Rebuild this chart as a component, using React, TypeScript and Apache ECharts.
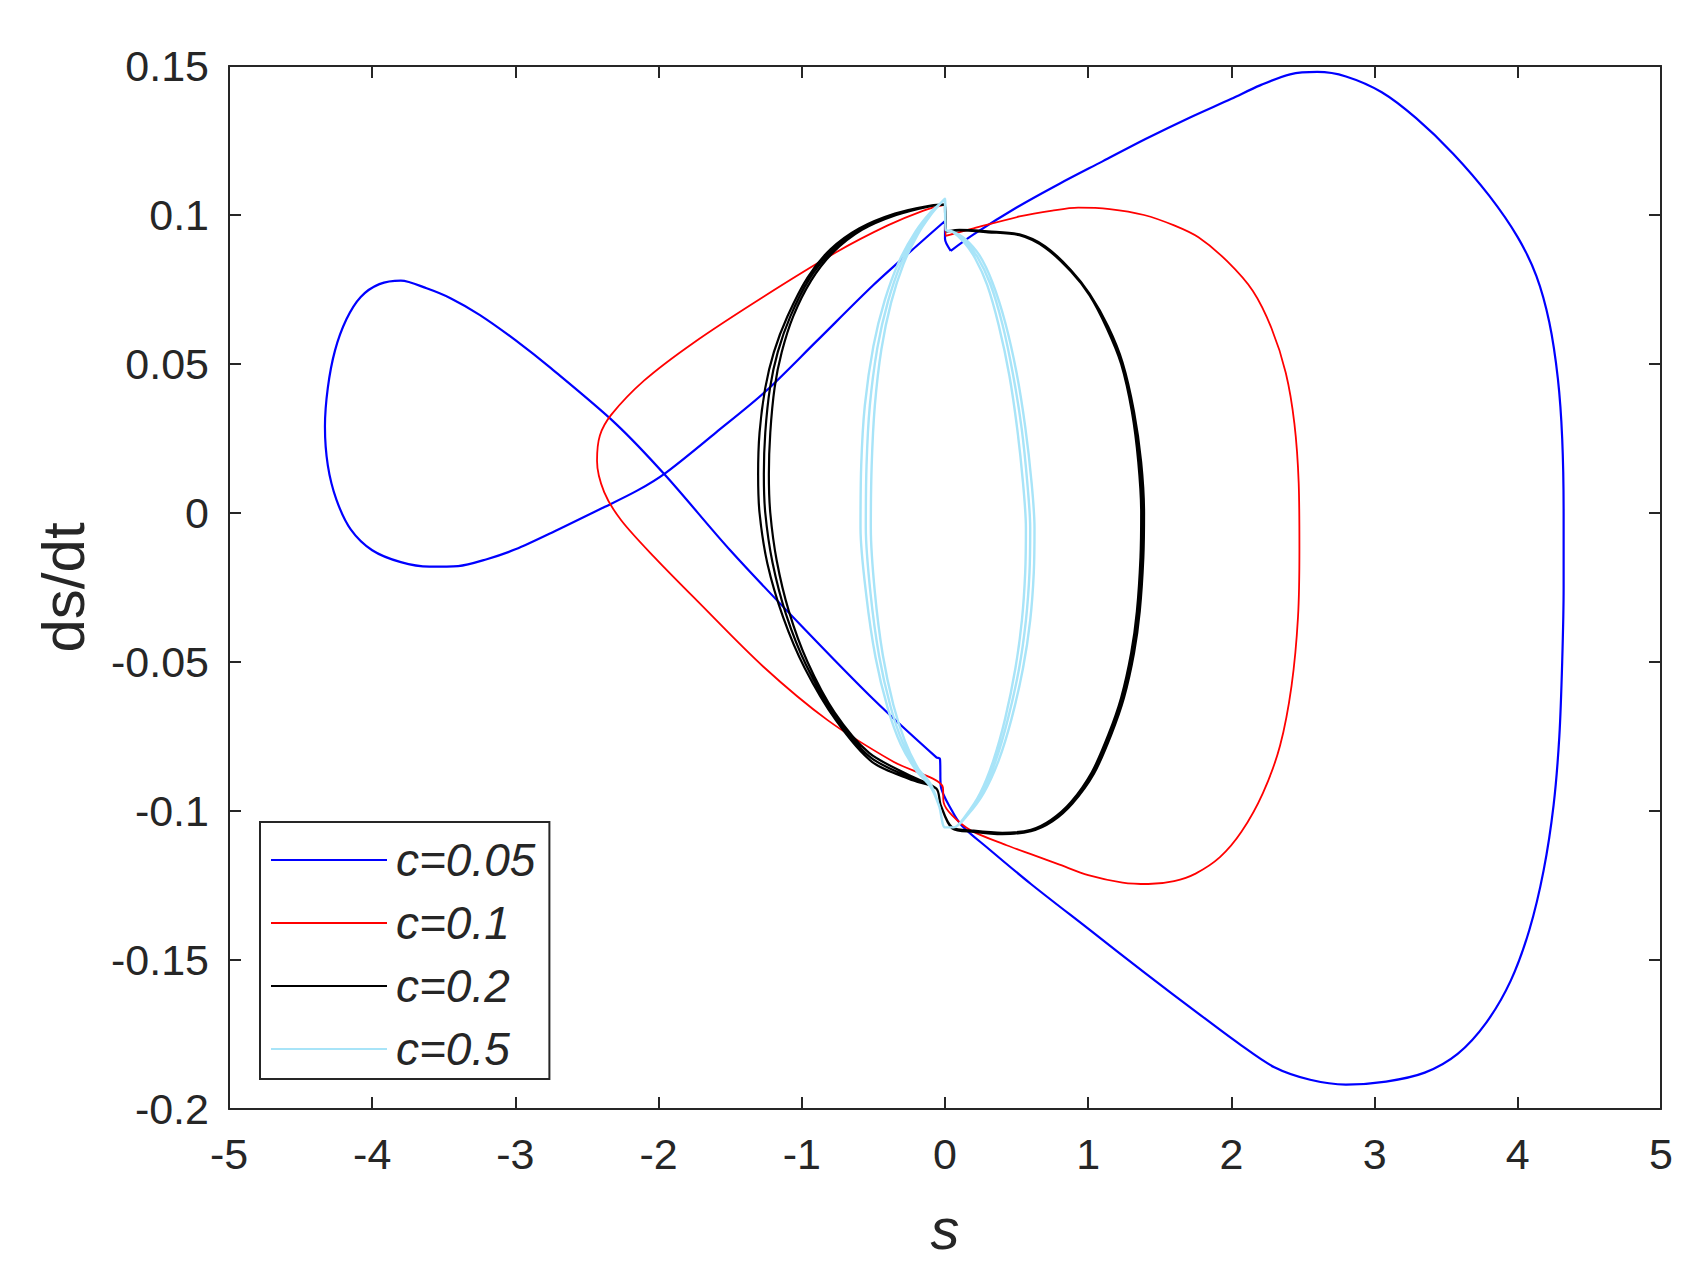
import React, { useEffect, useRef } from "react";
import * as echarts from "echarts";

type P = [number, number];

const xTicks = { min: -5, max: 5, interval: 1 };
const yTicks = { min: -0.2, max: 0.15, interval: 0.05 };

const seriesNames = ["c=0.05", "c=0.1", "c=0.2", "c=0.5"];
const seriesColors = ["#0000FF", "#FF0000", "#000000", "#A8E4F8"];

// c = 0.05 (blue)
const blueLoop: P[] = [
  [0.04, 0.088], [0.2, 0.0935], [0.5, 0.1025], [0.8, 0.1105], [1.1, 0.118], [1.4, 0.1255],
  [1.7, 0.1325], [2.0, 0.139], [2.2, 0.1435], [2.41, 0.1472], [2.6, 0.148], [2.8, 0.1465],
  [3.05, 0.1412], [3.29, 0.1325], [3.55, 0.1205], [3.8, 0.1065], [4.0, 0.0925],
  [4.13, 0.0795], [4.22, 0.064], [4.28, 0.045], [4.31, 0.025], [4.32, 0.0], [4.32, -0.025],
  [4.31, -0.05], [4.29, -0.075], [4.25, -0.098], [4.18, -0.12], [4.08, -0.14], [3.95, -0.157],
  [3.78, -0.171], [3.58, -0.1815], [3.35, -0.1878], [3.08, -0.1908], [2.8, -0.1918], [2.55, -0.1902],
  [2.3, -0.186], [2.05, -0.178], [1.77, -0.168], [1.4, -0.1545], [1.0, -0.1395], [0.6, -0.1245],
  [0.3, -0.1125], [0.12, -0.105], [0.05, -0.1], [-0.03, -0.0915], [-0.035, -0.0825], [-0.06, -0.082],
  [-0.5, -0.0625], [-1.0, -0.038], [-1.5, -0.0125], [-1.95, 0.0125], [-2.3, 0.03], [-2.75, 0.0485],
  [-3.0, 0.058], [-3.25, 0.0665], [-3.45, 0.072], [-3.62, 0.0754], [-3.8, 0.078], [-3.95, 0.0768],
  [-4.08, 0.0725], [-4.18, 0.065], [-4.26, 0.0545], [-4.31, 0.042], [-4.33, 0.029], [-4.31, 0.016],
  [-4.25, 0.0045], [-4.15, -0.0055], [-4.0, -0.0125], [-3.8, -0.0165], [-3.6, -0.018], [-3.4, -0.0178],
  [-3.2, -0.0155], [-3.0, -0.0122], [-2.7, -0.0055], [-2.4, 0.0015], [-2.15, 0.0075], [-1.95, 0.0135],
  [-1.6, 0.027], [-1.26, 0.0405], [-0.9, 0.0575], [-0.5, 0.0765], [-0.2, 0.0895], [0.0, 0.098],
  [0.0, 0.092], [0.04, 0.088],
];

// c = 0.1 (red)
const redLoop: P[] = [
  [0.0, 0.1035], [0.005, 0.093], [0.2, 0.0955], [0.52, 0.0995], [0.75, 0.1015], [0.93, 0.1025],
  [1.15, 0.102], [1.39, 0.1], [1.6, 0.0965], [1.77, 0.0925], [1.97, 0.0845], [2.15, 0.0745],
  [2.28, 0.062], [2.38, 0.047], [2.44, 0.03], [2.47, 0.01], [2.475, -0.012], [2.465, -0.035],
  [2.42, -0.058], [2.34, -0.078], [2.22, -0.094], [2.07, -0.107], [1.92, -0.1155], [1.75, -0.121],
  [1.6, -0.1235], [1.42, -0.1245], [1.24, -0.124], [1.0, -0.1215], [0.8, -0.118], [0.6, -0.1145],
  [0.43, -0.1115], [0.18, -0.1065], [0.05, -0.1015], [-0.01, -0.097], [-0.015, -0.092], [-0.36, -0.0835],
  [-0.82, -0.0695], [-1.27, -0.0515], [-1.73, -0.0295], [-2.03, -0.0148], [-2.26, -0.0025], [-2.38, 0.007],
  [-2.43, 0.0175], [-2.41, 0.026], [-2.33, 0.033], [-2.1, 0.0445], [-1.76, 0.057], [-1.27, 0.0725],
  [-0.76, 0.0875], [-0.4, 0.0965], [-0.15, 0.1015], [0.0, 0.1035],
];

// c = 0.2 (black), three laps
const blackLap1: P[] = [
  [0.0, 0.1035], [0.01, 0.0945], [0.1, 0.095], [0.3, 0.0945], [0.52, 0.0935], [0.7, 0.0895],
  [0.88, 0.0815], [1.01, 0.0735], [1.14, 0.0625], [1.24, 0.0505], [1.32, 0.034], [1.37, 0.017],
  [1.39, 0.0], [1.385, -0.015], [1.36, -0.033], [1.32, -0.047], [1.25, -0.062], [1.16, -0.0745],
  [1.04, -0.0875], [0.89, -0.0975], [0.75, -0.1035], [0.6, -0.1068], [0.4, -0.1078], [0.2, -0.107],
  [0.05, -0.1058], [-0.03, -0.098], [-0.06, -0.0925], [-0.22, -0.0898], [-0.51, -0.0835], [-0.76, -0.0697],
  [-0.98, -0.052], [-1.13, -0.035], [-1.24, -0.017], [-1.295, 0.0], [-1.305, 0.013], [-1.295, 0.027],
  [-1.255, 0.042], [-1.195, 0.054], [-1.1, 0.066], [-0.96, 0.079], [-0.8, 0.0885], [-0.6, 0.0955],
  [-0.35, 0.1005], [-0.1, 0.1032], [0.0, 0.1035],
];
const blackLap2: P[] = [
  [0.0, 0.1035], [0.01, 0.0945], [0.1, 0.0948], [0.3, 0.0942], [0.52, 0.0932], [0.7, 0.089],
  [0.88, 0.081], [1.01, 0.073], [1.13, 0.062], [1.23, 0.05], [1.305, 0.034], [1.35, 0.017],
  [1.37, 0.0], [1.365, -0.015], [1.34, -0.033], [1.3, -0.047], [1.23, -0.062], [1.14, -0.0745],
  [1.025, -0.087], [0.88, -0.097], [0.74, -0.103], [0.6, -0.1063], [0.4, -0.1073], [0.2, -0.1066],
  [0.05, -0.1055], [-0.03, -0.098], [-0.06, -0.0925], [-0.25, -0.088], [-0.53, -0.0805], [-0.77, -0.067],
  [-0.96, -0.05], [-1.09, -0.033], [-1.175, -0.016], [-1.22, 0.0], [-1.23, 0.013], [-1.22, 0.027],
  [-1.19, 0.042], [-1.14, 0.054], [-1.06, 0.066], [-0.935, 0.078], [-0.78, 0.0875], [-0.58, 0.095],
  [-0.34, 0.1], [-0.1, 0.103], [0.0, 0.1035],
];
const blackLap3: P[] = [
  [0.0, 0.1035], [0.01, 0.0945], [0.1, 0.0949], [0.3, 0.0944], [0.52, 0.0934], [0.7, 0.0893],
  [0.88, 0.0813], [1.01, 0.0733], [1.135, 0.0623], [1.235, 0.0503], [1.313, 0.034], [1.36, 0.017],
  [1.38, 0.0], [1.375, -0.015], [1.35, -0.033], [1.31, -0.047], [1.24, -0.062], [1.15, -0.0745],
  [1.033, -0.0873], [0.885, -0.0973], [0.745, -0.1033], [0.6, -0.1066], [0.4, -0.1076], [0.2, -0.1068],
  [0.05, -0.1056], [-0.03, -0.098], [-0.06, -0.0925], [-0.235, -0.089], [-0.52, -0.082], [-0.765, -0.0683],
  [-0.97, -0.051], [-1.11, -0.034], [-1.205, -0.0165], [-1.255, 0.0], [-1.265, 0.013], [-1.255, 0.027],
  [-1.222, 0.042], [-1.168, 0.054], [-1.08, 0.066], [-0.948, 0.0785], [-0.79, 0.088], [-0.59, 0.0952],
  [-0.345, 0.1002], [-0.1, 0.1031], [0.0, 0.1035],
];

// c = 0.5 (light blue), three laps
const cyanLap1: P[] = [
  [0.0, 0.1055], [0.005, 0.095], [0.05, 0.0945], [0.14, 0.092], [0.24, 0.0865], [0.33, 0.0775],
  [0.42, 0.064], [0.5, 0.047], [0.56, 0.029], [0.605, 0.01], [0.625, -0.005], [0.62, -0.02],
  [0.595, -0.036], [0.545, -0.052], [0.465, -0.069], [0.375, -0.083], [0.27, -0.094], [0.155, -0.1015],
  [0.06, -0.1055], [0.0, -0.1055], [-0.04, -0.0985], [-0.1, -0.092], [-0.2, -0.0865], [-0.31, -0.0775],
  [-0.4, -0.0655], [-0.485, -0.0485], [-0.55, -0.0275], [-0.59, -0.005], [-0.585, 0.016], [-0.56, 0.036],
  [-0.5, 0.056], [-0.42, 0.0715], [-0.32, 0.0845], [-0.205, 0.0945], [-0.1, 0.101], [-0.03, 0.104],
  [0.0, 0.1055],
];
const cyanLap2: P[] = [
  [0.0, 0.1055], [0.005, 0.095], [0.05, 0.0945], [0.135, 0.0915], [0.225, 0.086], [0.315, 0.077],
  [0.4, 0.0635], [0.475, 0.0465], [0.535, 0.0285], [0.575, 0.01], [0.595, -0.005], [0.59, -0.02],
  [0.565, -0.036], [0.518, -0.052], [0.44, -0.069], [0.355, -0.083], [0.258, -0.094], [0.15, -0.1015],
  [0.06, -0.1055], [0.0, -0.1055], [-0.04, -0.0985], [-0.1, -0.0915], [-0.195, -0.086], [-0.295, -0.077],
  [-0.38, -0.065], [-0.46, -0.048], [-0.52, -0.027], [-0.553, -0.005], [-0.548, 0.016], [-0.525, 0.036],
  [-0.472, 0.0555], [-0.398, 0.071], [-0.305, 0.084], [-0.198, 0.094], [-0.1, 0.1005], [-0.03, 0.104],
  [0.0, 0.1055],
];
const cyanLap3: P[] = [
  [0.0, 0.1055], [0.005, 0.095], [0.05, 0.0945], [0.13, 0.091], [0.21, 0.0855], [0.295, 0.0765],
  [0.375, 0.063], [0.45, 0.046], [0.505, 0.028], [0.545, 0.01], [0.565, -0.005], [0.56, -0.02],
  [0.537, -0.036], [0.492, -0.052], [0.42, -0.069], [0.338, -0.083], [0.246, -0.094], [0.145, -0.1015],
  [0.06, -0.1055], [0.0, -0.1055], [-0.04, -0.0985], [-0.1, -0.091], [-0.19, -0.0855], [-0.28, -0.0765],
  [-0.36, -0.0645], [-0.435, -0.0475], [-0.49, -0.0265], [-0.518, -0.005], [-0.512, 0.016], [-0.49, 0.036],
  [-0.444, 0.055], [-0.377, 0.0705], [-0.29, 0.0835], [-0.19, 0.0935], [-0.1, 0.1], [-0.03, 0.104],
  [0.0, 0.1055],
];

const seriesData: P[][] = [
  blueLoop,
  redLoop,
  [...blackLap1, ...blackLap2, ...blackLap3],
  [...cyanLap1, ...cyanLap2, ...cyanLap3],
];
const lineWidths = [2.2, 1.8, 2.2, 2.4];

const FONT = "'Liberation Sans', Arial, Helvetica, sans-serif";
const AX = "#262626";

export default function App() {
  const ref = useRef<HTMLDivElement>(null);
  useEffect(() => {
    document.body.style.margin = "0";
    if (!ref.current) return;
    const chart = echarts.init(ref.current, null, { renderer: "svg" });
    const axisLine = { show: true, onZero: false, lineStyle: { color: AX, width: 2 } };
    const axisTick = { show: true, inside: true, length: 12, lineStyle: { color: AX, width: 2 } };
    const labelStyle = { color: AX, fontSize: 43, fontFamily: FONT };
    const fmt = (v: number) => String(Math.round(v * 100) / 100);
    chart.setOption({
      animation: false,
      backgroundColor: "#ffffff",
      grid: { left: 229, right: 47, top: 66, bottom: 174, containLabel: false },
      xAxis: [
        {
          type: "value", position: "bottom", ...xTicks,
          axisLine, axisTick, splitLine: { show: false },
          axisLabel: { ...labelStyle, margin: 23, formatter: fmt },
          name: "s", nameLocation: "middle", nameGap: 90,
          nameTextStyle: { color: AX, fontSize: 58, fontStyle: "italic", fontFamily: FONT },
        },
        {
          type: "value", position: "top", ...xTicks,
          axisLine, axisTick, splitLine: { show: false }, axisLabel: { show: false },
        },
      ],
      yAxis: [
        {
          type: "value", position: "left", ...yTicks,
          axisLine, axisTick, splitLine: { show: false },
          axisLabel: { ...labelStyle, margin: 20, formatter: fmt },
          name: "ds/dt", nameLocation: "middle", nameGap: 136,
          nameTextStyle: { color: AX, fontSize: 60, fontFamily: FONT },
        },
        {
          type: "value", position: "right", ...yTicks,
          axisLine, axisTick, splitLine: { show: false }, axisLabel: { show: false },
        },
      ],
      legend: {
        data: seriesNames,
        orient: "vertical",
        left: 260,
        top: 822,
        padding: [13, 14, 5, 10],
        itemWidth: 116,
        itemHeight: 12,
        itemGap: 13,
        borderColor: AX,
        borderWidth: 2,
        borderRadius: 0,
        backgroundColor: "#ffffff",
        itemStyle: { opacity: 0 },
        textStyle: {
          color: AX, fontSize: 46, fontStyle: "italic", fontFamily: FONT,
          lineHeight: 50, padding: [0, 0, 0, 4],
        },
      },
      series: seriesNames.map((name, i) => ({
        name,
        type: "line",
        data: seriesData[i],
        xAxisIndex: 0,
        yAxisIndex: 0,
        showSymbol: false,
        symbol: "none",
        smooth: 0.3,
        clip: true,
        color: seriesColors[i],
        lineStyle: { color: seriesColors[i], width: lineWidths[i], join: "round" },
        z: 2 + i,
      })),
    });
    return () => chart.dispose();
  }, []);
  return <div ref={ref} style={{ width: 1708, height: 1283 }} />;
}
